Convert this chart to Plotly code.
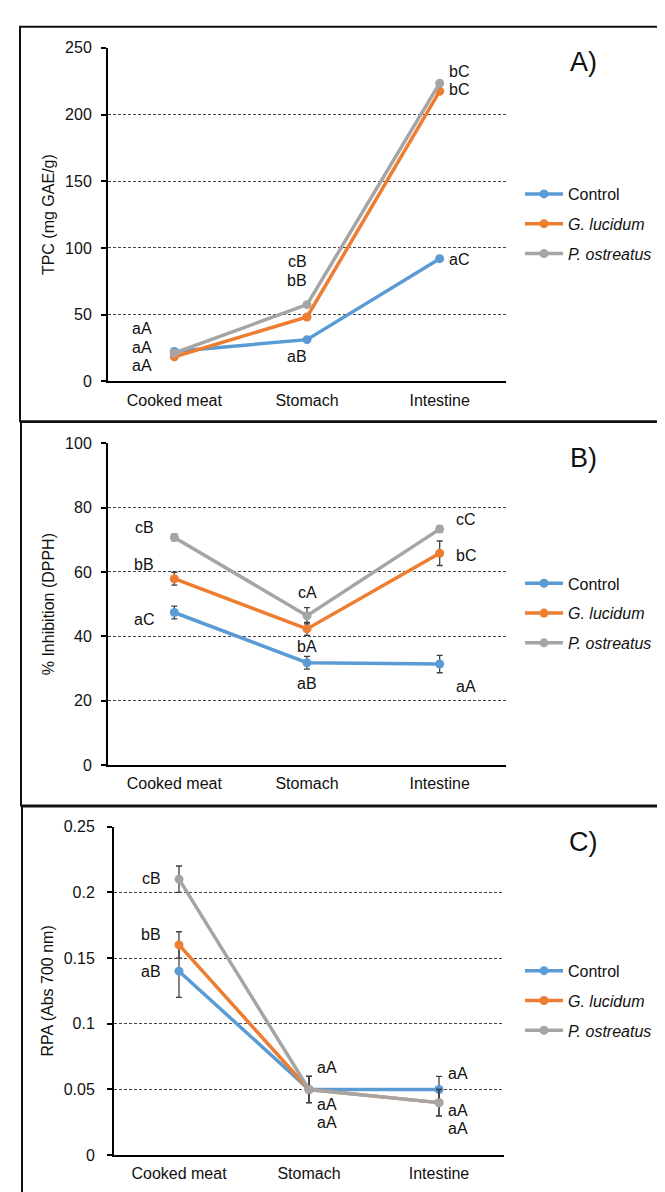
import plotly.graph_objects as go

W, H = 665, 1192

# ---------------- data ----------------
categories = ["Cooked meat", "Stomach", "Intestine"]
series_names = ["Control", "<i>G. lucidum</i>", "<i>P. ostreatus</i>"]
series_colors = ["#5B9BD5", "#ED7D31", "#A5A5A5"]

# Panel A: TPC (mg GAE/g)
tpc_control = [22.5, 31.3, 92.0]
tpc_glucidum = [18.5, 48.3, 217.5]
tpc_postreatus = [21.3, 57.5, 223.5]

# Panel B: % Inhibition (DPPH)
dpph_control = [47.4, 31.8, 31.4]
dpph_control_err = [2.0, 2.0, 2.7]
dpph_glucidum = [57.9, 42.3, 65.8]
dpph_glucidum_err = [2.0, 2.0, 3.8]
dpph_postreatus = [70.7, 46.4, 73.3]
dpph_postreatus_err = [1.0, 2.5, 1.0]

# Panel C: RPA (Abs 700 nm)
rpa_control = [0.14, 0.05, 0.05]
rpa_control_err = [0.02, 0.01, 0.01]
rpa_glucidum = [0.16, 0.05, 0.04]
rpa_glucidum_err = [0.01, 0.01, 0.01]
rpa_postreatus = [0.21, 0.05, 0.04]
rpa_postreatus_err = [0.01, 0.01, 0.01]

# significance letters: (category, text, y in data units, x shift px)
tpc_letters = [
    ("Cooked meat", "aA", 39.6, -32), ("Cooked meat", "aA", 25.6, -32), ("Cooked meat", "aA", 11.6, -32),
    ("Stomach", "cB", 89.9, -10), ("Stomach", "bB", 75.9, -10), ("Stomach", "aB", 19.0, -10),
    ("Intestine", "bC", 232.5, 19), ("Intestine", "bC", 218.5, 19), ("Intestine", "aC", 91.4, 19),
]
dpph_letters = [
    ("Cooked meat", "cB", 73.8, -30), ("Cooked meat", "bB", 62.2, -30), ("Cooked meat", "aC", 45.3, -30),
    ("Stomach", "cA", 53.6, 0), ("Stomach", "bA", 36.7, 0), ("Stomach", "aB", 25.4, 0),
    ("Intestine", "cC", 76.3, 26), ("Intestine", "bC", 65.0, 26), ("Intestine", "aA", 24.5, 26),
]
rpa_letters = [
    ("Cooked meat", "cB", 0.2105, -28), ("Cooked meat", "bB", 0.168, -28), ("Cooked meat", "aB", 0.1398, -28),
    ("Stomach", "aA", 0.0668, 18), ("Stomach", "aA", 0.0386, 18), ("Stomach", "aA", 0.0248, 18),
    ("Intestine", "aA", 0.0623, 19), ("Intestine", "aA", 0.0343, 19), ("Intestine", "aA", 0.0206, 19),
]

panel_labels = ["A)", "B)", "C)"]
y_titles = ["TPC (mg GAE/g)", "% Inhibition (DPPH)", "RPA (Abs 700 nm)"]
y_ranges = [[0, 250], [0, 100], [0, 0.25]]
y_dticks = [50, 20, 0.05]

# ---------------- layout helpers ----------------
def px(x):
    return x / W

def py(y):
    return 1 - y / H

FONT = "Liberation Sans, Arial, sans-serif"

panels = [
    dict(xd=(100, 498), yd=(32.3, 370.7), label_y=47, legend_y=211, box=(12, 11, 411), ystand=6),
    dict(xd=(100, 498), yd=(433.3, 760.0), label_y=448, legend_y=606, box=(13, 412, 801), ystand=6),
    dict(xd=(106, 496), yd=(822.3, 1155.7), label_y=838, legend_y=999, box=(14, 802, 1240), ystand=9),
]

panel_data = [
    ([tpc_control, tpc_glucidum, tpc_postreatus], [None, None, None], tpc_letters),
    ([dpph_control, dpph_glucidum, dpph_postreatus],
     [dpph_control_err, dpph_glucidum_err, dpph_postreatus_err], dpph_letters),
    ([rpa_control, rpa_glucidum, rpa_postreatus],
     [rpa_control_err, rpa_glucidum_err, rpa_postreatus_err], rpa_letters),
]

fig = go.Figure()
annotations = []
shapes = []

for i, (p, (vals, errs, letters)) in enumerate(zip(panels, panel_data)):
    sfx = "" if i == 0 else str(i + 1)
    xa, ya = "x" + sfx, "y" + sfx
    leg = "legend" + sfx
    for j in range(3):
        tr = dict(
            x=categories, y=vals[j], name=series_names[j], mode="lines+markers",
            line=dict(color=series_colors[j], width=3.5),
            marker=dict(color=series_colors[j], size=9),
            xaxis=xa, yaxis=ya, legend=leg, legendgroup=f"p{i}s{j}",
        )
        if errs[j] is not None:
            tr["error_y"] = dict(type="data", array=errs[j], color="#404040",
                                 thickness=1.3, width=3)
        fig.add_trace(go.Scatter(**tr))

    axis_x = dict(
        type="category", range=[-0.5, 2.5], domain=[px(p["xd"][0]), px(p["xd"][1])],
        anchor=ya, showline=True, linecolor="#000", linewidth=2, ticks="",
        showgrid=False, zeroline=False, tickfont=dict(size=16, color="#111", family=FONT),
        ticklabelstandoff=3, fixedrange=True,
    )
    axis_y = dict(
        range=y_ranges[i], dtick=y_dticks[i], tick0=0,
        domain=[py(p["yd"][1]), py(p["yd"][0])], anchor=xa,
        showline=True, linecolor="#000", linewidth=2,
        ticks="outside", ticklen=5, tickwidth=1.5, tickcolor="#000",
        showgrid=True, gridcolor="#444", gridwidth=1, griddash="3px,2px",
        zeroline=False, tickfont=dict(size=16, color="#111", family=FONT),
        ticklabelstandoff=p["ystand"],
        title=dict(text=y_titles[i], font=dict(size=16, color="#111", family=FONT), standoff=6),
        fixedrange=True,
    )
    fig.update_layout(**{"xaxis" + sfx: axis_x, "yaxis" + sfx: axis_y})

    fig.update_layout(**{leg: dict(
        x=px(512), y=py(p["legend_y"]), xanchor="left", yanchor="middle",
        font=dict(size=16, color="#111", family=FONT), bgcolor="rgba(0,0,0,0)",
        traceorder="grouped", tracegroupgap=6, itemwidth=38,
    )})

    for cat, txt, yv, xs in letters:
        annotations.append(dict(
            x=cat, y=yv, xref=xa, yref=ya, text=txt, showarrow=False, xshift=xs,
            xanchor="center", yanchor="middle",
            font=dict(size=16, color="#111", family=FONT),
        ))

    annotations.append(dict(
        x=px(575), y=py(p["label_y"]), xref="paper", yref="paper", text=panel_labels[i],
        showarrow=False, xanchor="center", yanchor="middle",
        font=dict(size=27, color="#111", family=FONT),
    ))

    bx0, btop, bbot = p["box"]
    shapes.append(dict(
        type="rect", xref="paper", yref="paper", x0=px(bx0), x1=px(720),
        y0=py(bbot), y1=py(btop), line=dict(color="#111", width=2),
    ))

fig.update_layout(
    width=W, height=H, margin=dict(l=0, r=0, t=0, b=0),
    paper_bgcolor="white", plot_bgcolor="white",
    font=dict(family=FONT, color="#111"),
    annotations=annotations, shapes=shapes, showlegend=True,
)

fig.write_html("out.html")
